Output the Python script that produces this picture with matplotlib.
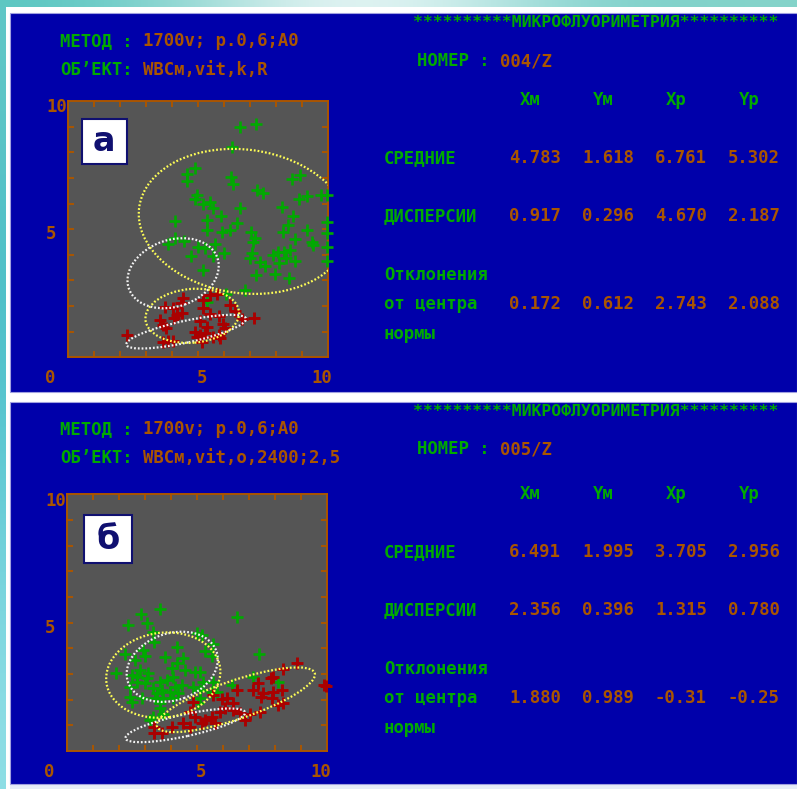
import matplotlib
matplotlib.use('Agg')
import matplotlib.pyplot as plt
from matplotlib.patches import Ellipse, Rectangle
import numpy as np

W, H = 797, 789
DPI = 100

# EGA-style palette of the measuring program
BLUE = '#0000aa'
GRAY = '#555555'
GREEN = '#00aa00'
BROWN = '#aa5500'
RED = '#aa0000'
YELLOW = '#ffff55'
WHITE = '#f4f4f4'
NAVY = '#101070'

MONO = ['DejaVu Sans Mono', 'DejaVu Sans']
FS = 12.4          # gives ~10.4 px per character
CH = 10.4

TITLE = '*' * 10 + 'МИКРОФЛУОРИМЕТРИЯ' + '*' * 10
COLUMNS = ['Xм', 'Yм', 'Xр', 'Yр']

# ---- panel a -------------------------------------------------------------
A_TAG = 'а'
A_METHOD = '1700v; p.0,6;A0'
A_OBJECT = 'WBCм,vit,k,R'
A_NUMBER = '004/Z'
A_MEANS = [4.783, 1.618, 6.761, 5.302]
A_DISP = [0.917, 0.296, 4.670, 2.187]
A_DEV = [0.172, 0.612, 2.743, 2.088]

A_GREEN_X = [6.62, 7.23, 6.32, 4.87, 4.57, 4.57, 6.26, 6.36, 8.62, 8.91, 7.25, 7.51,
             8.86, 9.20, 9.71, 9.94, 4.96, 4.89, 5.21, 5.47, 5.59, 6.62, 8.21, 5.87,
             8.66, 4.13, 5.36, 6.51, 8.47, 5.36, 5.91, 6.23, 7.02, 8.25, 9.20, 9.94,
             9.94, 9.94, 9.94, 7.19, 7.10, 8.72, 9.36, 9.43, 4.13, 3.87, 4.47, 5.02,
             5.27, 5.65, 5.57, 6.00, 4.73, 7.06, 7.89, 8.08, 8.30, 8.53, 8.38, 8.72,
             7.00, 7.38, 7.57, 8.12, 5.21, 7.23, 7.96, 8.51, 6.81, 6.07, 5.34]
A_GREEN_Y = [9.00, 9.09, 8.19, 7.37, 7.15, 6.88, 7.05, 6.75, 6.96, 7.12, 6.53, 6.40,
             6.18, 6.31, 6.33, 6.33, 6.33, 6.18, 5.97, 6.05, 5.81, 5.81, 5.88, 5.53,
             5.53, 5.32, 5.36, 5.23, 5.16, 4.97, 4.90, 4.97, 4.90, 4.90, 4.97, 5.29,
             4.84, 4.32, 3.77, 4.67, 4.51, 4.62, 4.51, 4.38, 4.64, 4.41, 4.54, 4.32,
             4.25, 4.41, 3.97, 4.06, 3.95, 4.06, 3.99, 4.10, 4.12, 4.19, 3.89, 3.77,
             3.89, 3.73, 3.58, 3.67, 3.41, 3.21, 3.24, 3.11, 2.63, 2.46, 2.17]
A_RED_X = [4.42, 4.34, 5.72, 5.47, 5.21, 5.21, 3.74, 4.06, 4.19, 4.38, 4.09, 6.23,
           6.42, 5.47, 5.82, 6.68, 7.16, 5.08, 3.55, 3.68, 3.78, 5.34, 5.98, 6.04,
           4.89, 5.08, 4.96, 5.27, 5.59, 5.82, 5.85, 5.15, 2.27, 3.68, 3.87, 4.06]
A_RED_Y = [2.30, 2.11, 2.46, 2.43, 2.24, 1.91, 1.98, 1.91, 1.65, 1.72, 1.55, 2.04,
           1.81, 1.68, 1.63, 1.50, 1.55, 1.42, 1.46, 1.26, 1.13, 1.20, 1.29, 1.13,
           1.00, 0.87, 0.81, 0.94, 0.81, 0.87, 0.74, 0.61, 0.87, 0.61, 0.64, 0.64]
# ellipse sizes of the sample groups: (width, height, angle) for m and p
A_ELL_M = (3.6, 2.1, 5)
A_ELL_P = (8.1, 5.6, -8)

# ---- panel б -------------------------------------------------------------
B_TAG = 'б'
B_METHOD = '1700v; p.0,6;A0'
B_OBJECT = 'WBCм,vit,o,2400;2,5'
B_NUMBER = '005/Z'
B_MEANS = [6.491, 1.995, 3.705, 2.956]
B_DISP = [2.356, 0.396, 1.315, 0.780]
B_DEV = [1.880, 0.989, -0.31, -0.25]

B_GREEN_X = [3.58, 2.85, 2.37, 3.07, 6.55, 3.32, 4.99, 5.18, 5.63, 3.36, 4.22, 5.31,
             5.56, 7.39, 2.24, 2.94, 3.00, 2.62, 3.77, 4.45, 4.25, 4.54, 4.92, 5.12,
             1.89, 2.81, 3.13, 2.49, 4.03, 3.07, 2.69, 3.00, 3.58, 3.84, 4.41, 4.16,
             4.86, 5.24, 5.60, 6.33, 7.14, 8.12, 2.43, 3.32, 3.64, 3.96, 4.28, 3.45,
             5.12, 5.75, 2.43, 2.88, 3.39, 3.71, 4.09, 5.12, 5.56, 2.49, 3.58, 3.32,
             3.71, 3.20, 5.05, 2.69, 4.09, 3.58]
B_GREEN_Y = [5.53, 5.32, 4.91, 4.97, 5.23, 4.65, 4.58, 4.52, 4.17, 4.26, 4.06, 3.91,
             3.70, 3.78, 3.78, 3.94, 3.70, 3.55, 3.68, 3.61, 3.42, 3.16, 3.09, 3.09,
             3.05, 3.16, 3.05, 2.96, 3.22, 2.83, 2.70, 2.64, 2.70, 2.77, 2.57, 2.51,
             2.51, 2.70, 2.70, 2.57, 2.87, 2.70, 2.51, 2.44, 2.38, 2.31, 2.25, 2.25,
             2.38, 2.31, 2.12, 2.05, 2.05, 2.05, 2.05, 2.05, 2.31, 1.92, 1.66, 1.34,
             1.44, 1.21, 1.86, 2.90, 2.90, 1.86]
B_RED_X = [8.85, 8.29, 7.83, 7.93, 7.35, 7.16, 7.54, 7.46, 7.93, 8.25, 7.88, 8.12,
           8.29, 6.55, 5.95, 6.14, 5.63, 6.39, 4.86, 6.07, 6.39, 6.65, 6.84, 7.03,
           7.42, 4.73, 4.92, 5.56, 5.88, 5.31, 5.69, 5.18, 4.48, 4.73, 4.03, 3.35,
           3.36, 3.64, 9.95, 9.88]
B_RED_Y = [3.42, 3.18, 2.83, 2.90, 2.64, 2.38, 2.27, 2.09, 2.31, 2.38, 2.05, 1.79,
           1.86, 2.38, 2.01, 2.05, 2.18, 1.86, 1.92, 1.66, 1.60, 1.47, 1.21, 1.44,
           1.53, 1.53, 1.34, 1.34, 1.53, 1.21, 1.08, 1.08, 1.08, 0.95, 0.92, 0.95,
           0.71, 0.71, 2.53, 2.57]
B_ELL_M = (6.4, 1.5, 19)
B_ELL_P = (4.4, 3.3, 8)

# norm ellipses (same in both panels): centre x, centre y, width, height, angle
NORM_ELLIPSES = [(4.05, 3.28, 3.6, 2.6, 20),
                 (4.55, 1.00, 4.7, 0.85, 12.5)]


def fmt5(v):
    return f'{v:.3f}'[:5]


def txt(ax, x, y, s, color, size=FS, **kw):
    ax.text(x, y, s, color=color, fontsize=size, family=MONO, fontweight='bold',
            va='center', ha=kw.pop('ha', 'left'), **kw)


fig = plt.figure(figsize=(W / DPI, H / DPI), dpi=DPI, facecolor='white')
bg = fig.add_axes([0, 0, 1, 1])
bg.set_xlim(0, W)
bg.set_ylim(H, 0)
bg.axis('off')

# light teal frame around the screenshots
top = np.array([[0.36, 0.78, 0.76], [0.62, 0.86, 0.84], [0.93, 0.97, 0.97],
                [0.80, 0.93, 0.92], [0.50, 0.82, 0.80], [0.52, 0.83, 0.79]])
bg.imshow(top[None, :, :], extent=(0, W, 7, 0), aspect='auto', interpolation='bicubic')
left = np.array([[0.38, 0.78, 0.78], [0.28, 0.74, 0.78], [0.40, 0.80, 0.84],
                 [0.56, 0.87, 0.90]])
bg.imshow(left[:, None, :], extent=(0, 6, H, 7), aspect='auto', interpolation='bicubic')
bg.set_xlim(0, W)
bg.set_ylim(H, 0)
bg.add_patch(Rectangle((10, 785), W - 10, 4, color='#e6ecf8', lw=0))

panels = [
    dict(y0=13.3, y1=391.7, dh=0, db=0, dx=0,
         box=(67.5, 101.0, 328.3, 357.3), tag=A_TAG, method=A_METHOD, obj=A_OBJECT,
         num=A_NUMBER, means=A_MEANS, disp=A_DISP, dev=A_DEV,
         gx=A_GREEN_X, gy=A_GREEN_Y, rx=A_RED_X, ry=A_RED_Y,
         em=A_ELL_M, ep=A_ELL_P, tagbox=(0.054, 0.754, 0.173, 0.175)),
    dict(y0=401.7, y1=784.3, dh=388.3, db=393.7, dx=-1,
         box=(66.7, 494.3, 327.3, 751.0), tag=B_TAG, method=B_METHOD, obj=B_OBJECT,
         num=B_NUMBER, means=B_MEANS, disp=B_DISP, dev=B_DEV,
         gx=B_GREEN_X, gy=B_GREEN_Y, rx=B_RED_X, ry=B_RED_Y,
         em=B_ELL_M, ep=B_ELL_P, tagbox=(0.066, 0.732, 0.185, 0.187)),
]

for p in panels:
    dh, db, dx = p['dh'], p['db'], p['dx']
    bg.add_patch(Rectangle((10, p['y0']), W - 10, p['y1'] - p['y0'],
                           facecolor=BLUE, edgecolor='#a0a0e0', lw=0.8))

    # header lines
    txt(bg, 413, 22.7 + dh, TITLE, GREEN, size=11.8)
    txt(bg, 60, 41 + dh, 'МЕТОД :', GREEN)
    txt(bg, 60 + 8 * CH, 41 + dh, p['method'], BROWN)
    txt(bg, 60, 70 + dh, 'ОБ\u2019ЕКТ:', GREEN)
    txt(bg, 60 + 8 * CH, 70 + dh, p['obj'], BROWN)
    txt(bg, 417, 61 + dh, 'НОМЕР :', GREEN)
    txt(bg, 417 + 8 * CH, 61 + dh, p['num'], BROWN)

    # statistics table
    col_x = [509, 582, 655, 728]
    for cx, name in zip(col_x, COLUMNS):
        txt(bg, cx + 21, 100 + db, name, GREEN, ha='center')
    txt(bg, 384, 158 + db, 'СРЕДНИЕ', GREEN)
    txt(bg, 384, 216 + db, 'ДИСПЕРСИИ', GREEN)
    txt(bg, 384, 275 + db, 'Отклонения', GREEN)
    txt(bg, 384, 304 + db, 'от центра', GREEN)
    txt(bg, 384, 334 + db, 'нормы', GREEN)
    for row_y, vals in ((158, p['means']), (216, p['disp']), (304, p['dev'])):
        for cx, v in zip(col_x, vals):
            txt(bg, cx, row_y + db, fmt5(v), BROWN)

    # axis numbers
    txt(bg, 57 + dx, 107 + db, '10', BROWN, ha='center')
    txt(bg, 51 + dx, 234 + db, '5', BROWN, ha='center')
    txt(bg, 50 + dx, 378 + db, '0', BROWN, ha='center')
    txt(bg, 202 + dx, 378 + db, '5', BROWN, ha='center')
    txt(bg, 322 + dx, 378 + db, '10', BROWN, ha='center')

    # scatter plot
    x0, y0, x1, y1 = p['box']
    ax = fig.add_axes([x0 / W, 1 - y1 / H, (x1 - x0) / W, (y1 - y0) / H])
    ax.set_facecolor(GRAY)
    ax.set_xlim(0, 10)
    ax.set_ylim(0, 10)
    ax.set_xticks(range(1, 10))
    ax.set_yticks(range(1, 10))
    ax.tick_params(direction='in', length=4.5, width=1.4, color=BROWN,
                   top=True, right=True, labelbottom=False, labelleft=False)
    for s in ax.spines.values():
        s.set_color(BROWN)
        s.set_linewidth(1.4)

    ax.plot(p['gx'], p['gy'], '+', color=GREEN, ms=8, mew=1.9, clip_on=False, zorder=3)
    ax.plot(p['rx'], p['ry'], '+', color=RED, ms=8, mew=2.1, clip_on=False, zorder=3)

    dots = (0, (0.8, 0.9))
    for cx, cy, w, h, ang in NORM_ELLIPSES:
        ax.add_patch(Ellipse((cx, cy), w, h, angle=ang, fill=False, edgecolor=WHITE,
                             lw=1.6, linestyle=dots, zorder=4))
    m = p['means']
    for (cx, cy), (w, h, ang) in (((m[0], m[1]), p['em']), ((m[2], m[3]), p['ep'])):
        ax.add_patch(Ellipse((cx, cy), w, h, angle=ang, fill=False, edgecolor=YELLOW,
                             lw=1.6, linestyle=dots, zorder=4))

    bx, by, bw, bh = p['tagbox']
    ax.add_patch(Rectangle((bx, by), bw, bh, transform=ax.transAxes, facecolor='white',
                           edgecolor=NAVY, lw=1.5, zorder=5))
    ax.text(bx + bw / 2, by + bh / 2, p['tag'], transform=ax.transAxes, ha='center',
            va='center', fontsize=24, fontweight='bold', color=NAVY, zorder=6,
            family='DejaVu Sans')

fig.savefig('out.png', dpi=DPI, facecolor='white')
